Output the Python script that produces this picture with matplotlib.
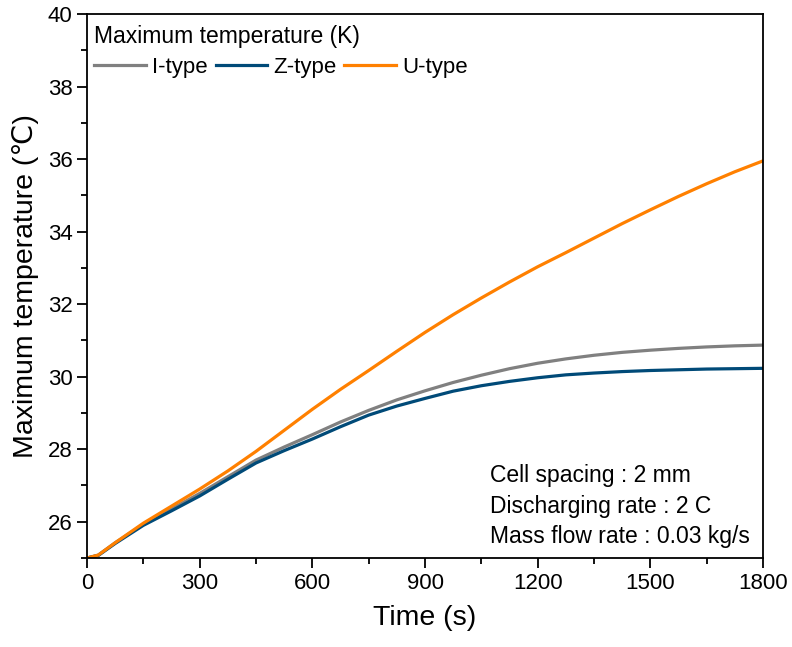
import matplotlib
matplotlib.use("Agg")
import matplotlib.pyplot as plt
from matplotlib.ticker import MultipleLocator

plt.rcParams['font.family'] = ['Liberation Sans', 'DejaVu Sans']

time_s = [0, 30, 75, 150, 225, 300, 375, 450, 525, 600, 675, 750, 825, 900, 975,
          1050, 1125, 1200, 1275, 1350, 1425, 1500, 1575, 1650, 1725, 1800]
i_type = [25.0, 25.08, 25.42, 25.93, 26.35, 26.78, 27.24, 27.70, 28.06, 28.40, 28.75, 29.07, 29.36,
          29.61, 29.84, 30.04, 30.22, 30.37, 30.49, 30.59, 30.67, 30.73, 30.78, 30.82, 30.85, 30.87]
z_type = [25.0, 25.07, 25.40, 25.90, 26.30, 26.71, 27.17, 27.62, 27.96, 28.28, 28.62, 28.94, 29.19,
          29.40, 29.60, 29.75, 29.87, 29.97, 30.05, 30.10, 30.14, 30.17, 30.19, 30.21, 30.22, 30.23]
u_type = [25.0, 25.08, 25.42, 25.96, 26.43, 26.90, 27.40, 27.94, 28.52, 29.10, 29.65, 30.17, 30.70,
          31.22, 31.71, 32.17, 32.61, 33.03, 33.42, 33.82, 34.22, 34.60, 34.97, 35.32, 35.65, 35.95]

series = [("I-type", i_type, "#808080"),
          ("Z-type", z_type, "#004a78"),
          ("U-type", u_type, "#ff8000")]

fig = plt.figure(figsize=(7.92, 6.47), dpi=100)
ax = fig.add_axes([87/792, 1-558/647, 676/792, 544/647])

for name, vals, col in series:
    ax.plot(time_s, vals, color=col, lw=2.3, label=name)

ax.set_xlim(0, 1800)
ax.set_ylim(25, 40)
ax.xaxis.set_major_locator(MultipleLocator(300))
ax.xaxis.set_minor_locator(MultipleLocator(150))
ax.yaxis.set_major_locator(MultipleLocator(2))
ax.yaxis.set_minor_locator(MultipleLocator(1))
ax.tick_params(which='both', direction='out', top=False, right=False, width=1.3, labelsize=16)
ax.tick_params(which='major', length=7)
ax.tick_params(which='minor', length=4)
for sp in ax.spines.values():
    sp.set_linewidth(1.3)

ax.set_xlabel("Time (s)", fontsize=20.5, labelpad=8)
ax.set_ylabel("Maximum temperature (\u2103)", fontsize=20.5, labelpad=6)

leg = ax.legend(title="Maximum temperature (K)", ncol=3, loc='upper left',
                bbox_to_anchor=(-0.012, 1.008), frameon=False, fontsize=16,
                title_fontsize=16.5, handlelength=2.3, handletextpad=0.3,
                columnspacing=0.35, borderaxespad=0.3, alignment='left',
                labelspacing=0.4)

ax.text(0.596, 0.018, "Cell spacing : 2 mm\nDischarging rate : 2 C\nMass flow rate : 0.03 kg/s",
        transform=ax.transAxes, ha='left', va='bottom', fontsize=16.5, linespacing=1.42)

fig.savefig("out.png", dpi=100)
